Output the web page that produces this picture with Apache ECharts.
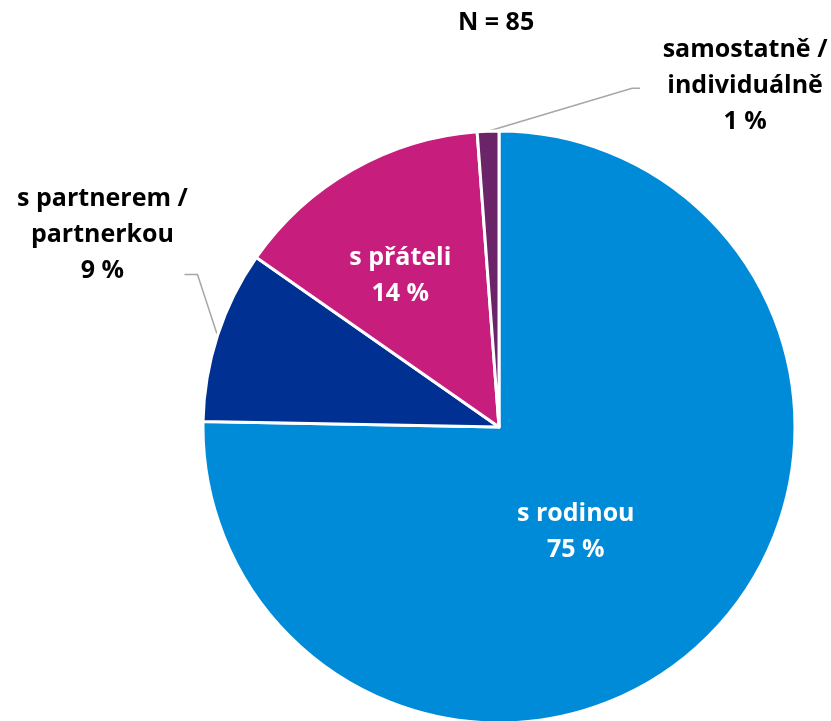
<!DOCTYPE html>
<html>
<head>
<meta charset="utf-8">
<script src="https://cdn.jsdelivr.net/npm/echarts@6/dist/echarts.min.js"></script>
<style>
  html, body { margin: 0; padding: 0; background: #fff; }
  #main { width: 831px; height: 721px; }
</style>
</head>
<body>
<div id="main"></div>
<script>
// data
var categories = ['s rodinou', 's partnerem /\npartnerkou', 's přáteli', 'samostatně /\nindividuálně'];
var counts = [64, 8, 12, 1];
var percents = [75, 9, 14, 1];
var colors = ['#008BD9', '#003092', '#C71D7D', '#6B2468'];
var total = 85;

var fontFamily = '"Open Sans", "Noto Sans", sans-serif';

var seriesData = [];
for (var i = 0; i < categories.length; i++) {
    var inside = (i == 0 || i == 2);
    seriesData.push({
        name: categories[i],
        value: counts[i],
        itemStyle: { color: colors[i] },
        label: inside ? {
            position: 'inside',
            color: '#fff'
        } : {
            position: 'outside',
            color: '#000'
        },
        labelLine: { show: !inside }
    });
}

// posun popisku a vodici cary vuci okraji vysece
function moveLabel(params) {
    var p0 = params.labelLinePoints ? params.labelLinePoints[0] : null;
    switch (params.dataIndex) {
        case 0:
            return { dx: -29, dy: -3 };
        case 2:
            return { dx: -24, dy: -20 };
        case 1:
            return {
                x: p0[0] - 115, y: p0[1] - 101,
                align: 'center', verticalAlign: 'middle',
                labelLinePoints: [p0, [p0[0] - 20, p0[1] - 61], [p0[0] - 33, p0[1] - 61]]
            };
        case 3:
            return {
                x: p0[0] + 257, y: p0[1] - 45,
                align: 'center', verticalAlign: 'middle',
                labelLinePoints: [p0, [p0[0] + 144, p0[1] - 43], [p0[0] + 152, p0[1] - 43]]
            };
        default:
            return {};
    }
}

var myChart = echarts.init(document.getElementById('main'));

var option = {
    animation: false,
    title: {
        text: 'N = ' + total,
        left: 453,
        top: 5,
        textStyle: { fontFamily: fontFamily, fontWeight: 'bold', fontSize: 25, color: '#000' }
    },
    series: [{
        type: 'pie',
        center: [499, 427],
        radius: 296,
        startAngle: 90,
        clockwise: true,
        itemStyle: { borderColor: '#fff', borderWidth: 3 },
        label: {
            show: true,
            fontFamily: fontFamily,
            fontWeight: 'bold',
            fontSize: 25,
            lineHeight: 36,
            align: 'center',
            formatter: function (p) {
                return p.name + '\n' + percents[p.dataIndex] + ' %';
            }
        },
        labelLine: {
            length: 20,
            length2: 10,
            lineStyle: { color: '#A6A6A6', width: 1.5 }
        },
        labelLayout: moveLabel,
        data: seriesData
    }]
};

myChart.setOption(option);
</script>
</body>
</html>
